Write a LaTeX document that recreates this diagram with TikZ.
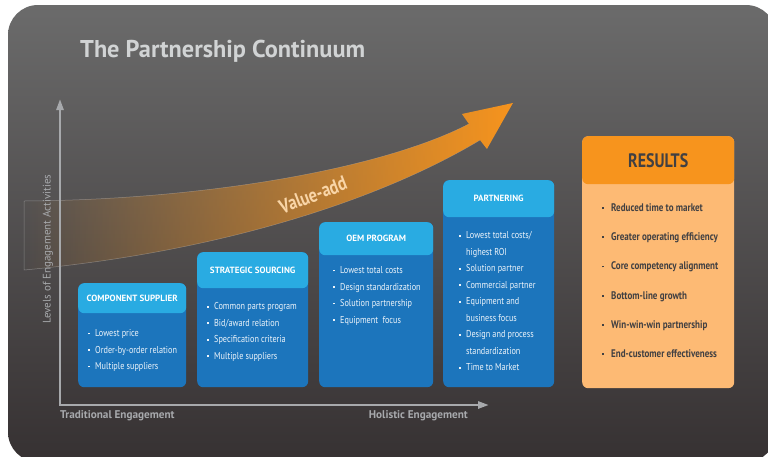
\documentclass[tikz,border=0pt]{standalone}
\usepackage{fontspec}
\setmainfont{PT Sans}
\newfontfamily\condfont[FakeStretch=0.82]{PT Sans}
\usetikzlibrary{positioning,arrows.meta,fadings}
\definecolor{bgtop}{HTML}{6B6B6B}
\definecolor{bgbot}{HTML}{363132}
\definecolor{hdrblue}{HTML}{29ABE2}
\definecolor{bodyblue}{HTML}{1C75BC}
\definecolor{valorange}{HTML}{F7941D}
\definecolor{peach}{HTML}{FDBA74}
\definecolor{darktext}{HTML}{414042}
\definecolor{axisgray}{HTML}{A7A9AC}
\definecolor{titlegray}{HTML}{D1D3D4}
\definecolor{valtext}{HTML}{F9D5A7}
\tikzfading[name=valuefade, left color=transparent!100, middle color=transparent!35, right color=transparent!0]
\newcommand\bul{\makebox[7pt][l]{\rule[0.22em]{1.6pt}{1.6pt}}}
\newcommand\rbul{\makebox[9pt][l]{\rule[0.22em]{1.8pt}{1.8pt}}}
\newcommand\ind{\hspace*{7pt}}

\begin{document}
\begin{tikzpicture}
  [x=1pt, y=-1pt,
   body/.style={fill=bodyblue, rounded corners=6pt, anchor=north west, inner sep=0pt},
   head/.style={fill=hdrblue, rounded corners=6pt, anchor=north, inner sep=0pt, text=white,
     font=\bfseries\fontsize{9}{10}\selectfont},
   list/.style={align=left, inner sep=0pt, text=white!92!bodyblue,
     font=\condfont\fontsize{10}{16.5}\selectfont},
   axis/.style={draw=axisgray, line width=2.5pt,
     arrows={Triangle[width=7pt,length=11pt]-Triangle[width=7pt,length=11pt]}},
   axistext/.style={inner sep=0pt, text=axisgray, font=\bfseries\fontsize{11.2}{13}\selectfont},
   edge/.style={draw=white, draw opacity=0.3, line width=0.5pt}]
  \useasboundingbox (0,0) rectangle (768,456);
  \shade[top color=bgtop, bottom color=bgbot, rounded corners=30pt] (8,5) rectangle (776,462);

  \node[anchor=base west, inner sep=0pt, text=titlegray,
    font=\bfseries\fontsize{24.3}{28}\selectfont] (title) at (80,57) {The Partnership Continuum};

  % value-add band
  \draw[edge] (469,124) .. controls (380,170) and (200,200) .. (24,201) -- (24,270)
    .. controls (220,252) and (380,200) .. (480,140);
  \fill[valorange, path fading=valuefade] (24,201) .. controls (200,200) and (380,170) .. (469,124)
    -- (462,114) -- (513,103) -- (487,149) -- (480,140)
    .. controls (380,200) and (220,252) .. (24,270) -- cycle;
  \node[rotate=21, inner sep=0pt, text=valtext,
    font=\condfont\bfseries\fontsize{20}{22}\selectfont] (value) at (313,195) {Value-add};

  % axes
  \coordinate (origin) at (60,405);
  \coordinate (ytip) at (60,99);
  \coordinate (xtip) at (489,405);
  \draw[axis] (ytip) -- (origin) -- (xtip);
  \node[rotate=90, inner sep=0pt, text=axisgray, font=\fontsize{11}{13}\selectfont]
    (levels) at (48,249) {Levels of Engagement Activities};
  \node[axistext, below right=5pt and 0pt of origin] (trad) {Traditional Engagement};
  \node[axistext, below left=5pt and 21pt of xtip] (holistic) {Holistic Engagement};

  % stages
  \node[body, minimum width=108pt, minimum height=104pt] (comp) at (78,283) {};
  \node[head, minimum width=108pt, minimum height=30pt] (comphead) at (comp.north) {COMPONENT SUPPLIER};
  \node[list, below right=16pt and 10pt of comphead.south west] (complist)
    {\bul Lowest price\\ \bul Order-by-order relation\\ \bul Multiple suppliers};

  \node[body, minimum width=111pt, minimum height=135pt] (strat) at (197,252) {};
  \node[head, minimum width=111pt, minimum height=36pt] (strathead) at (strat.north) {STRATEGIC SOURCING};
  \node[list, below right=14pt and 10pt of strathead.south west] (stratlist)
    {\bul Common parts program\\ \bul Bid/award relation\\ \bul Specification criteria\\ \bul Multiple suppliers};

  \node[body, minimum width=114pt, minimum height=165pt] (oem) at (319,222) {};
  \node[head, minimum width=114pt, minimum height=33pt] (oemhead) at (oem.north) {OEM PROGRAM};
  \node[list, below right=11pt and 14pt of oemhead.south west] (oemlist)
    {\bul Lowest total costs\\ \bul Design standardization\\ \bul Solution partnership\\ \bul Equipment~ focus};

  \node[body, minimum width=111pt, minimum height=207pt] (part) at (443,180) {};
  \node[head, minimum width=111pt, minimum height=37pt] (parthead) at (part.north) {PARTNERING};
  \node[list, below right=14pt and 16pt of parthead.south west] (partlist)
    {\bul Lowest total costs/\\ \ind highest ROI\\ \bul Solution partner\\ \bul Commercial partner\\
     \bul Equipment and\\ \ind business focus\\ \bul Design and process\\ \ind standardization\\ \bul Time to Market};

  % results
  \node[body, fill=peach, minimum width=152pt, minimum height=252pt] (res) at (582,136) {};
  \node[head, fill=valorange, text=darktext, minimum width=152pt, minimum height=48pt,
    font=\condfont\bfseries\fontsize{19.5}{22}\selectfont] (reshead) at (res.north) {RESULTS};
  \node[list, text=darktext, font=\condfont\bfseries\fontsize{11}{29.2}\selectfont,
    below right=19pt and 20pt of reshead.south west] (reslist)
    {\rbul Reduced time to market\\ \rbul Greater operating efficiency\\ \rbul Core competency alignment\\
     \rbul Bottom-line growth\\ \rbul Win-win-win partnership\\ \rbul End-customer effectiveness};
\end{tikzpicture}
\end{document}
